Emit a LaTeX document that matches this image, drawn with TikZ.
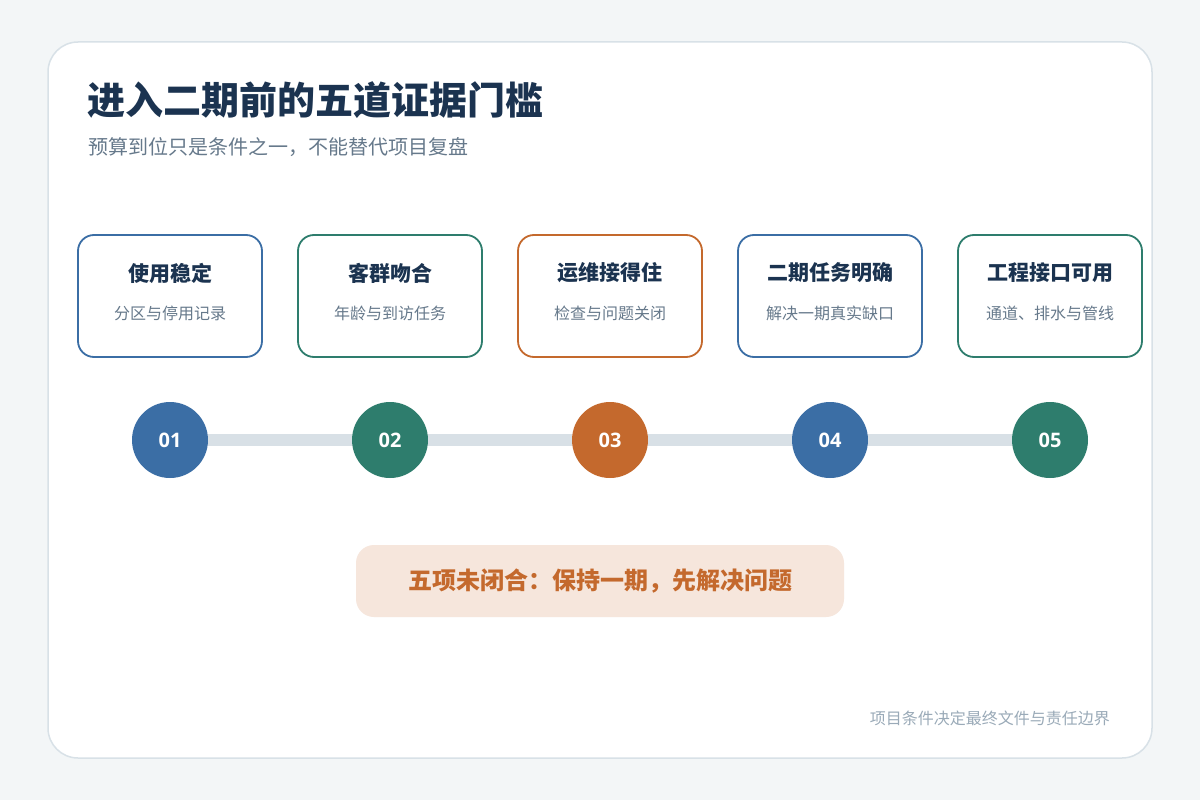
\documentclass[tikz,border=0pt]{standalone}
\usepackage{fontspec}
\setmainfont{Noto Sans CJK SC}
\newfontfamily\numfont{Open Sans}
\usetikzlibrary{positioning}

\definecolor{pageback}{HTML}{F3F6F7}
\definecolor{cardline}{HTML}{D8E1E7}
\definecolor{inkdark}{HTML}{1B3350}
\definecolor{inkgray}{HTML}{66798B}
\definecolor{inklight}{HTML}{9AAAB8}
\definecolor{tblue}{HTML}{3B6EA5}
\definecolor{tgreen}{HTML}{2E7D6D}
\definecolor{torange}{HTML}{C4692D}
\definecolor{trackgray}{HTML}{D8E0E6}
\definecolor{notefill}{HTML}{F6E6DC}

\begin{document}
\begin{tikzpicture}[x=1pt,y=-1pt,
    gate/.style={draw=#1, line width=1.8pt, fill=white, rounded corners=16pt,
      minimum width=184pt, minimum height=122pt, inner sep=0pt},
    gatehead/.style={font=\fontsize{21}{25}\selectfont\bfseries, text=inkdark},
    gatesub/.style={font=\fontsize{16}{19}\selectfont, text=inkgray},
    dot/.style={circle, fill=#1, minimum size=76pt, inner sep=0pt,
      font=\numfont\fontsize{20}{24}\selectfont\bfseries, text=white},
    track/.style={trackgray, line width=12pt}]
  % page and card
  \fill[pageback] (0,0) rectangle (1200,800);
  \useasboundingbox (0,0) rectangle (1200,800);
  \draw[cardline, line width=1.5pt, fill=white, rounded corners=30pt] (48,42) rectangle (1152,758);

  % heading
  \node[anchor=west, inner sep=0pt, text=inkdark, font=\fontsize{38}{45}\selectfont\bfseries] (title) at (87,100) {进入二期前的五道证据门槛};
  \node[anchor=west, inner sep=0pt, text=inkgray, font=\fontsize{20}{24}\selectfont] (subtitle) at (88,147) {预算到位只是条件之一，不能替代项目复盘};

  % gates and steps
  \foreach \i/\col/\head/\sub in {1/tblue/使用稳定/分区与停用记录,
                                  2/tgreen/客群吻合/年龄与到访任务,
                                  3/torange/运维接得住/检查与问题关闭,
                                  4/tblue/二期任务明确/解决一期真实缺口,
                                  5/tgreen/工程接口可用/通道、排水与管线} {
    \node[gate=\col] (g\i) at ({170+220*(\i-1)},296) {};
    \node[gatehead] (h\i) at ([yshift=23pt]g\i.center) {\head};
    \node[gatesub] (s\i) at ([yshift=-17pt]g\i.center) {\sub};
    \node[dot=\col] (c\i) at ({170+220*(\i-1)},440) {0\i};
  }
  \foreach \i [evaluate=\i as \j using int(\i+1)] in {1,...,4}
    \draw[track] (c\i.east) -- (c\j.west);

  % closing note
  \node[fill=notefill, rounded corners=18pt, minimum width=488pt, minimum height=72pt,
    text=torange, font=\fontsize{24}{28}\selectfont\bfseries] (note) at (600,581) {五项未闭合：保持一期，先解决问题};
  \node[anchor=east, inner sep=0pt, text=inklight, font=\fontsize{16}{19}\selectfont] (foot) at (1110,718) {项目条件决定最终文件与责任边界};
\end{tikzpicture}
\end{document}
